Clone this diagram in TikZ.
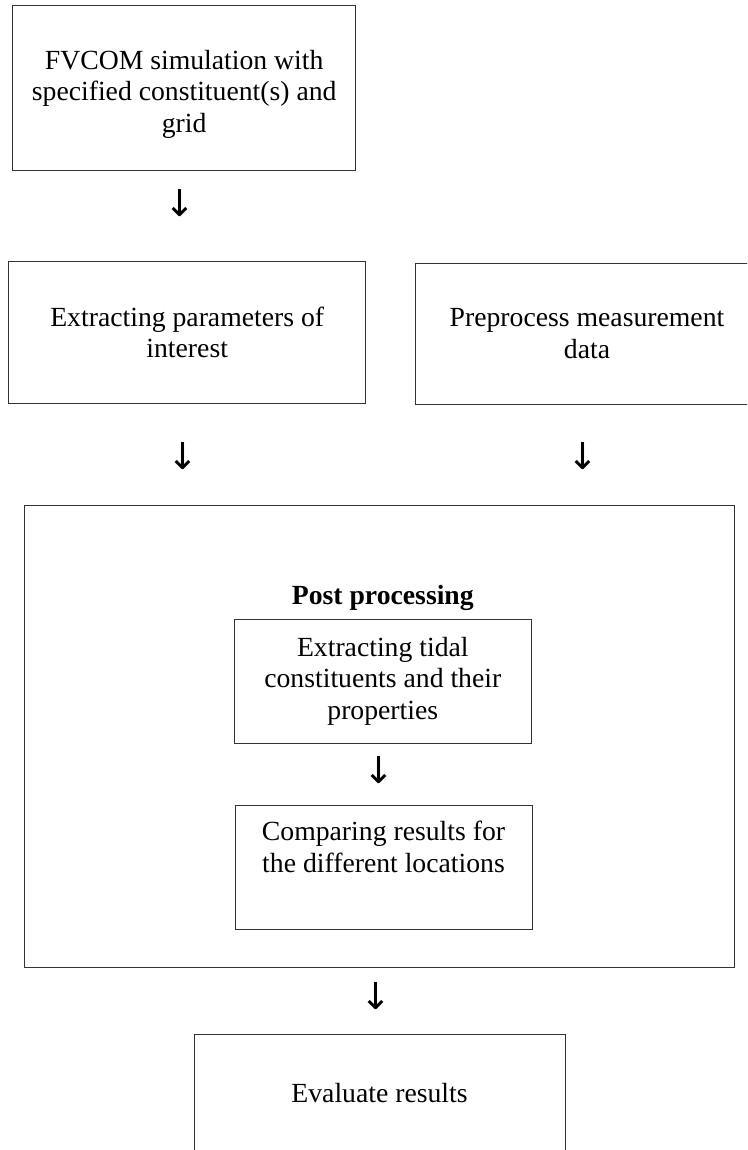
\documentclass[tikz,border=0pt]{standalone}
\usepackage{fontspec}
\setmainfont{Liberation Serif}
\newfontfamily\arrowfont{DejaVu Sans}
\usetikzlibrary{positioning}

\begin{document}
\begin{tikzpicture}[x=1pt,y=-1pt,line width=0.9pt,
		box/.style={draw=black!80,align=center,inner sep=0pt},
		down/.style={inner sep=0pt,xshift=-4pt,font=\arrowfont\fontsize{37}{37}\selectfont},
		font=\fontsize{27.7}{31.5}\selectfont]
		\useasboundingbox (0,0) rectangle (747,1150);
		\clip (0,0) rectangle (747,1150);
		
		\node[box,minimum width=343pt,minimum height=165.7pt] (fvcom) at (184.2,87.9)
			{\mbox{}\\FVCOM simulation with\\specified constituent(s) and\\grid};
		\node[down,below=17.5pt of fvcom] (arr1) {↓};
		
		\node[box,minimum width=357pt,minimum height=141.6pt] (extract) at (187.2,332.5)
			{Extracting parameters of\\interest};
		\node[box,minimum width=342.3pt,minimum height=141pt] (preproc) at (587,333.8)
			{Preprocess measurement\\data};
		\node[down,below=38.5pt of extract] (arr2) {↓};
		\node[down,below=37.7pt of preproc] (arr3) {↓};
		
		\node[box,minimum width=710pt,minimum height=461.2pt] (postbox) at (379.8,736.4) {};
		\node[box,minimum width=297.5pt,minimum height=124pt] (tidal) at (382.8,681)
			{Extracting tidal\\constituents and their\\properties};
		\node[above=4pt of tidal,font=\fontsize{27.7}{31.5}\selectfont\bfseries] (posttitle) {Post processing};
		\node[down,below=13pt of tidal] (arr4) {↓};
		\node[box,minimum width=297pt,minimum height=124pt] (compare) at (383.5,867)
			{Comparing results for\\the different locations\\\strut};
		
		\node[down,below=15pt of postbox] (arr5) {↓};
		\node[box,minimum width=371pt,minimum height=118pt] (evaluate) at (379.5,1093)
			{Evaluate results};
	\end{tikzpicture}
\end{document}
